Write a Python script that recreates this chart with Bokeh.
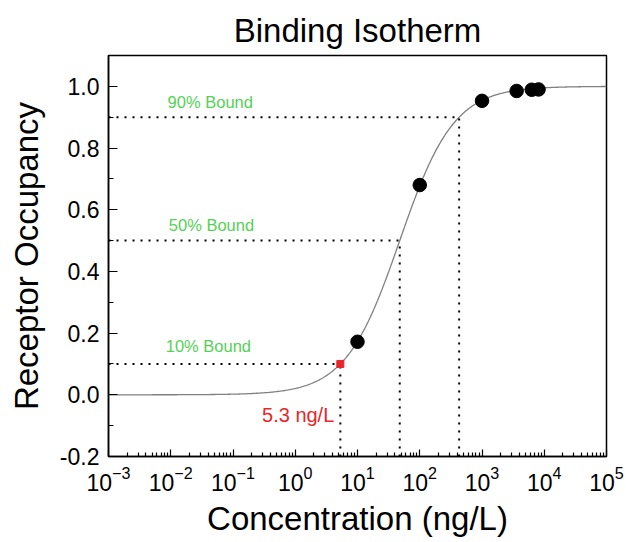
import numpy as np
from bokeh.plotting import figure
from bokeh.models import Range1d, FixedTicker, PrintfTickFormatter, LogTickFormatter
from bokeh.core.properties import value
from bokeh.embed import file_html
from bokeh.resources import INLINE

FONT = "Liberation Sans"

# measured data points
conc = [10, 100, 1000, 3600, 6300, 8100]
occupancy = [0.172, 0.68, 0.953, 0.985, 0.989, 0.99]

# fitted dissociation constant (ng/L)
Kd = 47.7
bound_levels = [0.1, 0.5, 0.9]
bound_labels = ["10% Bound", "50% Bound", "90% Bound"]
ec10_label = "5.3 ng/L"

x_ticks = [1e-3, 1e-2, 1e-1, 1e0, 1e1, 1e2, 1e3, 1e4, 1e5]
y_ticks = [-0.2, 0.0, 0.2, 0.4, 0.6, 0.8, 1.0]
y_minor = [-0.1, 0.1, 0.3, 0.5, 0.7, 0.9]

p = figure(width=625, height=541, x_axis_type="log",
           x_range=Range1d(1e-3, 1e5), y_range=Range1d(-0.2, 1.1),
           frame_width=498, frame_height=401,
           min_border_left=108, min_border_right=19,
           min_border_top=55, min_border_bottom=85,
           output_backend="svg", toolbar_location=None,
           title="Binding Isotherm")

p.title.text_font = FONT
p.title.text_font_size = "33px"
p.title.text_font_style = "normal"
p.title.align = "center"
p.title.text_color = "black"
p.title.standoff = 14

p.grid.visible = False
p.outline_line_color = "black"
p.outline_line_width = 1.5
p.background_fill_color = "white"
p.border_fill_color = "white"

# curve
xc = np.logspace(-3, 5, 600)
yc = xc / (xc + Kd)
p.line(xc, yc, line_color="#808080", line_width=1.3)

# dotted guide lines
ecs = [Kd * f / (1 - f) for f in bound_levels]
for ec, f in zip(ecs, bound_levels):
    p.line([1e-3, ec], [f, f], line_color="black", line_width=2, line_dash="2 6")
    p.line([ec, ec], [-0.2, f], line_color="black", line_width=2, line_dash="2 6")

# data points
p.scatter(conc, occupancy, size=13.5, color="black")
p.scatter([ecs[0]], [bound_levels[0]], marker="square", size=7, color="#e8262b")

# labels
lab_x = [0.0083, 0.0093, 0.0089]
lab_y = [0.159, 0.549, 0.949]
p.text(x=lab_x, y=lab_y, text=bound_labels, text_font=value(FONT),
       text_font_size="16.5px", text_color="#55d155", text_baseline="middle",
       text_align="left")
p.text(x=[ecs[0] * 0.8], y=[-0.065], text=[ec10_label], text_font=value(FONT),
       text_font_size="20px", text_color="#e8262b", text_baseline="middle",
       text_align="right")

# axes
minor_x = [m * d for d in x_ticks[:-1] for m in range(2, 10)]
p.xaxis.ticker = FixedTicker(ticks=x_ticks, minor_ticks=minor_x)
p.xaxis.formatter = LogTickFormatter()
p.yaxis.ticker = FixedTicker(ticks=y_ticks, minor_ticks=y_minor)
p.yaxis.formatter = PrintfTickFormatter(format="%.1f")

for ax in (p.xaxis[0], p.yaxis[0]):
    ax.axis_line_color = "black"
    ax.axis_line_width = 1.5
    ax.major_tick_line_color = "black"
    ax.minor_tick_line_color = "black"
    ax.major_tick_line_width = 1.2
    ax.minor_tick_line_width = 1.2
    ax.major_tick_out = 0
    ax.minor_tick_out = 0
    ax.major_label_text_font = FONT
    ax.axis_label_text_font = FONT
    ax.axis_label_text_font_style = "normal"
    ax.axis_label_text_color = "black"
    ax.major_label_text_color = "black"

p.xaxis.major_tick_in = 7
p.xaxis.minor_tick_in = 4
p.yaxis.major_tick_in = 9
p.yaxis.minor_tick_in = 5

p.xaxis.axis_label = "Concentration (ng/L)"
p.yaxis.axis_label = "Receptor Occupancy"
p.xaxis.axis_label_text_font_size = "33px"
p.yaxis.axis_label_text_font_size = "33px"
p.xaxis.major_label_text_font_size = "23px"
p.yaxis.major_label_text_font_size = "23px"
p.xaxis.major_label_standoff = 9
p.yaxis.major_label_standoff = 9
p.xaxis.axis_label_standoff = 6
p.yaxis.axis_label_standoff = 12

open("out.html", "w").write(file_html(p, INLINE))
